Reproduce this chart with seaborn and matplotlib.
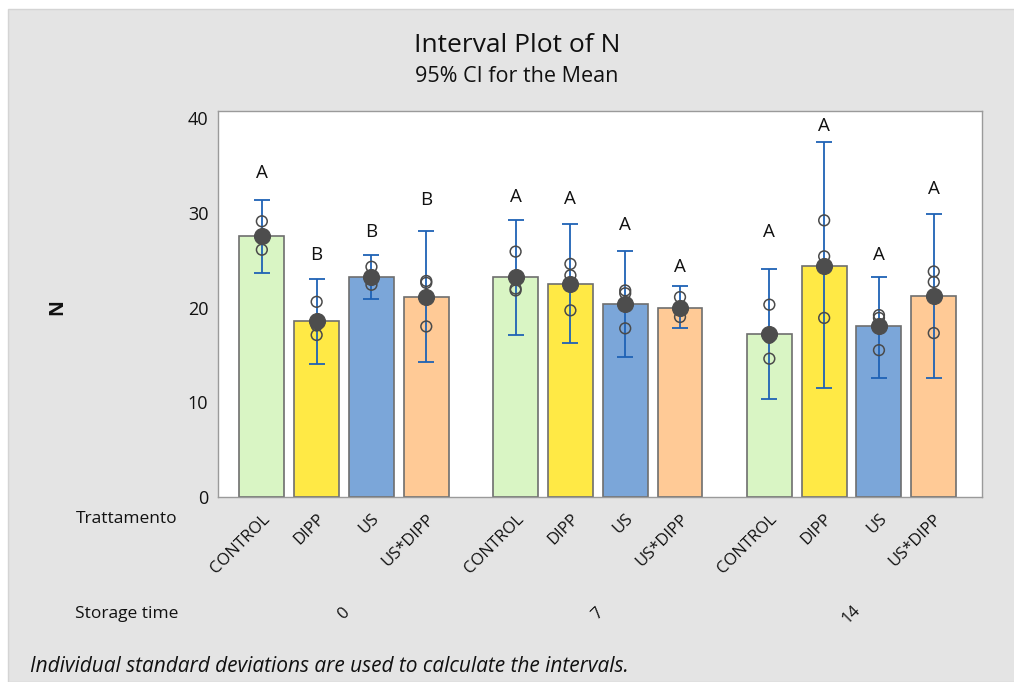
import numpy as np
import pandas as pd
import matplotlib
matplotlib.use("Agg")
import matplotlib.pyplot as plt
import matplotlib.transforms as mtransforms
from matplotlib.patches import Rectangle
import seaborn as sns

# ---------------- data ----------------
storage_times = ["0", "7", "14"]
treatments = ["CONTROL", "DIPP", "US", "US*DIPP"]

means = [27.5, 18.6, 23.2, 21.1,
         23.2, 22.5, 20.4, 20.0,
         17.2, 24.4, 18.0, 21.2]
ci_low = [23.6, 14.0, 20.9, 14.2,
          17.1, 16.3, 14.8, 17.8,
          10.3, 11.5, 12.6, 12.6]
ci_high = [31.3, 23.0, 25.5, 28.1,
           29.2, 28.8, 26.0, 22.3,
           24.1, 37.5, 23.2, 29.9]
obs_1 = [29.1, 20.6, 24.3, 22.8,
         25.9, 24.6, 21.8, 21.1,
         20.3, 29.2, 19.2, 23.8]
obs_2 = [27.3, 18.1, 23.0, 22.6,
         22.0, 23.4, 21.5, 19.9,
         16.8, 25.4, 18.9, 22.7]
obs_3 = [26.1, 17.1, 22.4, 18.0,
         21.8, 19.7, 17.8, 19.0,
         14.6, 18.9, 15.5, 17.3]
letters = ["A", "B", "B", "B",
           "A", "A", "A", "A",
           "A", "A", "A", "A"]
letter_y = [34.2, 25.5, 28.0, 31.3,
            31.7, 31.5, 28.7, 24.3,
            28.0, 39.2, 25.5, 32.5]

palette = {"CONTROL": "#d9f5c4", "DIPP": "#ffe945", "US": "#7ba6d9", "US*DIPP": "#ffca96"}

# ---------------- layout ----------------
group_stride = 4.63
pos = [g * group_stride + i for g in range(len(storage_times)) for i in range(len(treatments))]
df = pd.DataFrame({
    "pos": pos,
    "Trattamento": treatments * len(storage_times),
    "Storage": [s for s in storage_times for _ in treatments],
    "mean": means, "lo": ci_low, "hi": ci_high,
})
obs = pd.DataFrame({
    "pos": pos * 3,
    "value": obs_1 + obs_2 + obs_3,
})

sns.set_theme(style="white")
plt.rcParams["font.family"] = ["Open Sans", "DejaVu Sans"]

fig = plt.figure(figsize=(10.14, 6.82), dpi=100)
fig.patch.set_facecolor("white")
fig.patches.append(Rectangle((8 / 1014, 0), 1, 1 - 9 / 682, transform=fig.transFigure,
                             facecolor="#e4e4e4", edgecolor="#d4d4d4", lw=1, zorder=-10))

ax = fig.add_axes([218 / 1014, 1 - 497 / 682, (982 - 218) / 1014, (497 - 111) / 682])
ax.set_facecolor("white")

sns.barplot(data=df, x="pos", y="mean", hue="Trattamento", palette=palette,
            native_scale=True, dodge=False, width=0.82, edgecolor="#6e6e6e",
            linewidth=1.2, legend=False, errorbar=None, saturation=1, ax=ax, zorder=2)

m = np.array(means)
ax.errorbar(pos, m, yerr=[m - np.array(ci_low), np.array(ci_high) - m], fmt="none",
            ecolor="#1f62b5", elinewidth=1.3, capsize=6, capthick=1.3, zorder=3)

sns.scatterplot(data=obs, x="pos", y="value", marker="o", s=60, facecolors="none",
                edgecolor="#4a4a4a", linewidth=1.1, ax=ax, zorder=4, legend=False)
sns.scatterplot(data=df, x="pos", y="mean", marker="o", s=130, color="#4d4d4d",
                edgecolor="#4d4d4d", ax=ax, zorder=5, legend=False)

for p, t, ly in zip(pos, letters, letter_y):
    ax.text(p, ly, t, ha="center", va="center", fontsize=13.5, color="#111111", zorder=6)

ax.set_xlim(-0.80, 13.14)
ax.set_ylim(0, 40.74)
ax.set_yticks([0, 10, 20, 30, 40])
ax.set_xticks(pos)
ax.set_xticklabels(treatments * len(storage_times), rotation=45, ha="right",
                   va="top", rotation_mode="anchor", fontsize=12)
offset = mtransforms.ScaledTranslation(9 / 100, 0, fig.dpi_scale_trans)
for lab in ax.get_xticklabels():
    lab.set_transform(lab.get_transform() + offset)
ax.tick_params(axis="both", which="both", direction="out", length=4, width=0.8,
               color="#888888", labelcolor="#111111", pad=3)
ax.tick_params(axis="y", labelsize=13)
ax.tick_params(axis="x", labelsize=12, pad=6)
ax.set_xlabel("")
ax.set_ylabel("")
for s in ax.spines.values():
    s.set_color("#9a9a9a")
    s.set_linewidth(1.0)

# group labels
trans = mtransforms.blended_transform_factory(ax.transData, fig.transFigure)
for g, st in enumerate(storage_times):
    cx = g * group_stride + (len(treatments) - 1) / 2
    ax.text(cx, 1 - 614 / 682, st, transform=trans, rotation=45, ha="center",
            va="center", fontsize=12, color="#111111")

fig.text(178 / 1014, 1 - 519 / 682, "Trattamento", ha="right", va="center", fontsize=12.5, color="#111111")
fig.text(178 / 1014, 1 - 614 / 682, "Storage time", ha="right", va="center", fontsize=12.5, color="#111111")
fig.text(57 / 1014, 1 - 307 / 682, "N", rotation=90, ha="center", va="center",
         fontsize=14, fontweight="bold", color="#111111")
fig.text(517 / 1014, 1 - 45 / 682, "Interval Plot of N", ha="center", va="center",
         fontsize=19, color="#111111")
fig.text(517 / 1014, 1 - 76 / 682, "95% CI for the Mean", ha="center", va="center",
         fontsize=15.5, color="#111111")
fig.text(30 / 1014, 1 - 667 / 682, "Individual standard deviations are used to calculate the intervals.",
         ha="left", va="center", fontsize=15, style="italic", color="#111111")

fig.savefig("out.png", dpi=100, facecolor=fig.get_facecolor())
